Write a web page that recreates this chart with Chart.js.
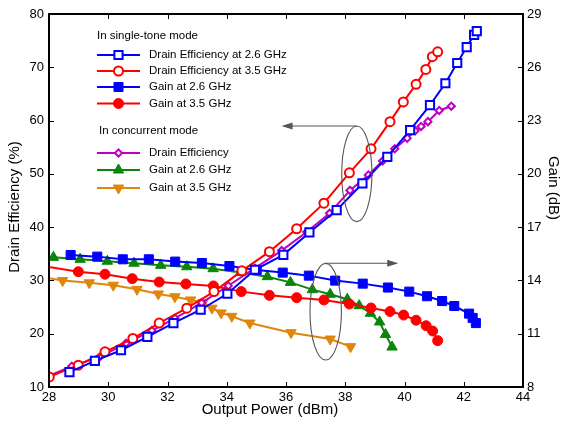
<!DOCTYPE html>
<html>
<head>
<meta charset="utf-8">
<script src="https://cdn.jsdelivr.net/npm/chart.js@4/dist/chart.umd.min.js"></script>
<style>
html,body{margin:0;padding:0;background:#fff;}
canvas{display:block;}
</style>
</head>
<body>
<canvas id="c" width="565" height="424"></canvas>
<script>
// ---- Data ----
// Single-tone: Drain efficiency at 2.6 GHz (left axis, %)
const de26Power = [28.69,29.55,30.43,31.32,32.20,33.12,34.02,34.95,35.91,36.79,37.71,38.58,39.42,40.19,40.86,41.38,41.78,42.10,42.35,42.44];
const de26Values = [12.8,14.9,16.9,19.4,22.0,24.5,27.5,32.0,34.8,39.0,43.2,48.2,53.2,58.2,62.9,67.0,70.8,73.8,76.1,76.8];
// Single-tone: Drain efficiency at 3.5 GHz
const de35Power = [28.01,28.99,29.89,30.83,31.72,32.65,33.57,34.51,35.44,36.36,37.28,38.14,38.87,39.51,39.96,40.39,40.72,40.94,41.12];
const de35Values = [11.9,14.1,16.6,19.1,22.0,24.8,27.9,31.8,35.4,39.7,44.5,50.2,54.7,59.8,63.5,66.8,69.6,72.0,72.9];
// Single-tone: Gain at 2.6 GHz (right axis, dB)
const gain26Power = [28.73,29.63,30.49,31.37,32.26,33.16,34.09,35.01,35.89,36.77,37.66,38.59,39.44,40.16,40.76,41.27,41.68,42.18,42.30,42.41];
const gain26Values = [15.43,15.34,15.19,15.19,15.06,14.98,14.81,14.59,14.44,14.27,13.99,13.82,13.60,13.37,13.11,12.84,12.56,12.13,11.89,11.60];
// Single-tone: Gain at 3.5 GHz
const gain35Power = [28.0,28.99,29.89,30.81,31.72,32.62,33.55,34.49,35.44,36.36,37.28,38.14,38.87,39.51,39.97,40.39,40.73,40.95,41.12];
const gain35Values = [14.76,14.49,14.35,14.10,13.91,13.80,13.69,13.37,13.16,13.03,12.90,12.67,12.45,12.25,12.05,11.76,11.45,11.15,10.61];
// Concurrent: Drain efficiency
const deConcPower = [28.01,28.77,29.70,30.60,31.47,32.25,33.15,34.05,34.95,35.85,36.70,37.47,38.16,38.78,39.26,39.67,40.09,40.36,40.56,40.79,41.17,41.58];
const deConcValues = [12.1,13.9,15.6,18.2,20.6,22.9,25.8,29.0,32.3,35.6,39.1,42.6,46.9,49.8,52.4,54.7,56.7,58.1,58.9,59.8,61.9,62.7];
// Concurrent: Gain at 2.6 GHz
const gainConc26Power = [28.15,29.05,29.97,30.87,31.77,32.65,33.54,34.47,35.37,36.15,36.89,37.49,38.07,38.47,38.85,39.16,39.36,39.58];
const gainConc26Values = [15.30,15.19,15.08,14.97,14.85,14.77,14.66,14.44,14.21,13.89,13.48,13.22,12.94,12.58,12.15,11.66,10.96,10.25];
// Concurrent: Gain at 3.5 GHz
const gainConc35Power = [28.0,28.46,29.36,30.17,30.97,31.69,32.25,32.78,33.20,33.50,33.81,34.17,34.78,36.17,37.49,38.18];
const gainConc35Values = [14.12,13.99,13.87,13.73,13.50,13.24,13.08,12.90,12.76,12.44,12.17,11.98,11.60,11.06,10.70,10.27];

const xTickMin = 28, xTickMax = 44, xTickStep = 2;
const leftMin = 10, leftMax = 80, leftStep = 10;
const rightMin = 8, rightMax = 29, rightStep = 3;

const legendSingleTitle = 'In single-tone mode';
const legendConcTitle = 'In concurrent mode';
const xTitle = 'Output Power (dBm)';
const yLeftTitle = 'Drain Efficiency (%)';
const yRightTitle = 'Gain (dB)';

// ---- Styles ----
const BLUE = '#0000FF', RED = '#FF0000', MAG = '#BF00BF', GREEN = '#0B850B', ORANGE = '#E0860C';

function pts(xs, ys){ return xs.map((x,i)=>({x:x, y:ys[i]})); }

const series = [
  {label:'Drain Efficiency at 2.6 GHz', group:1, data:pts(de26Power,de26Values), axis:'y', color:BLUE, style:'rect', r:5.8, fill:'#fff', bw:2},
  {label:'Drain Efficiency at 3.5 GHz', group:1, data:pts(de35Power,de35Values), axis:'y', color:RED, style:'circle', r:4.5, fill:'#fff', bw:2},
  {label:'Gain at 2.6 GHz', group:1, data:pts(gain26Power,gain26Values), axis:'y2', color:BLUE, style:'rect', r:6.4, fill:BLUE, bw:1},
  {label:'Gain at 3.5 GHz', group:1, data:pts(gain35Power,gain35Values), axis:'y2', color:RED, style:'circle', r:5, fill:RED, bw:1, skipFirst:true},
  {label:'Drain Efficiency', group:2, data:pts(deConcPower,deConcValues), axis:'y', color:MAG, style:'rectRot', r:3.6, fill:'#fff', bw:2},
  {label:'Gain at 2.6 GHz', group:2, data:pts(gainConc26Power,gainConc26Values), axis:'y2', color:GREEN, style:'triangle', r:6, fill:GREEN, bw:1},
  {label:'Gain at 3.5 GHz', group:2, data:pts(gainConc35Power,gainConc35Values), axis:'y2', color:ORANGE, style:'triangle', rot:180, r:6, fill:ORANGE, bw:1, skipFirst:true},
];

const datasets = series.map(s => ({
  label: s.label,
  data: s.data,
  yAxisID: s.axis,
  borderColor: s.color,
  backgroundColor: s.fill,
  borderWidth: 2,
  pointStyle: s.style,
  pointRotation: s.rot || 0,
  pointRadius: s.skipFirst ? (c => c.dataIndex === 0 ? 0 : s.r) : s.r,
  pointBorderWidth: s.bw,
  pointBorderColor: s.color,
  pointBackgroundColor: s.fill,
  showLine: true,
  tension: 0,
  fill: false
}));

// annotation shapes (in data units): ellipses and arrows
const ellipseA = {x:38.39, rx:0.51, y:50.0, ry:8.97, axis:'y'};
const arrowA = {x1:38.39, x2:35.85, y:58.98, axis:'y'};
const ellipseB = {x:37.34, rx:0.53, y:12.24, ry:2.72, axis:'y2'};
const arrowB = {x1:37.31, x2:39.79, y:14.97, axis:'y2'};

function drawMarker(ctx, style, x, y, r, rot, fill, stroke, bw){
  ctx.save();
  ctx.translate(x,y);
  ctx.rotate((rot||0)*Math.PI/180);
  ctx.beginPath();
  if(style==='circle'){ ctx.arc(0,0,r,0,Math.PI*2); }
  else if(style==='rect'){ const s=Math.SQRT1_2*r; ctx.rect(-s,-s,2*s,2*s); }
  else if(style==='rectRot'){ ctx.moveTo(0,-r); ctx.lineTo(r,0); ctx.lineTo(0,r); ctx.lineTo(-r,0); ctx.closePath(); }
  else if(style==='triangle'){
    ctx.moveTo(0,-r); ctx.lineTo(r*Math.cos(Math.PI/6), r*0.5); ctx.lineTo(-r*Math.cos(Math.PI/6), r*0.5); ctx.closePath();
  }
  ctx.fillStyle=fill; ctx.fill();
  ctx.lineWidth=bw; ctx.strokeStyle=stroke; ctx.stroke();
  ctx.restore();
}

const decor = {
  id:'decor',
  afterDraw(chart){
    const ctx = chart.ctx;
    const a = chart.chartArea;
    const xs = chart.scales.x, yl = chart.scales.y, yr = chart.scales.y2;
    ctx.save();
    // inward ticks
    ctx.strokeStyle='#000'; ctx.lineWidth=1;
    ctx.beginPath();
    for(let v=xTickMin; v<=xTickMax; v+=xTickStep){
      const px = Math.round(xs.getPixelForValue(v))+0.5;
      ctx.moveTo(px,a.bottom); ctx.lineTo(px,a.bottom-5);
      ctx.moveTo(px,a.top); ctx.lineTo(px,a.top+5);
    }
    for(let v=leftMin; v<=leftMax; v+=leftStep){
      const py = Math.round(yl.getPixelForValue(v))+0.5;
      ctx.moveTo(a.left,py); ctx.lineTo(a.left+5,py);
    }
    for(let v=rightMin; v<=rightMax; v+=rightStep){
      const py = Math.round(yr.getPixelForValue(v))+0.5;
      ctx.moveTo(a.right,py); ctx.lineTo(a.right-5,py);
    }
    ctx.stroke();
    // frame
    ctx.lineWidth=2;
    ctx.strokeRect(a.left, a.top, a.right-a.left, a.bottom-a.top);

    // annotations
    ctx.strokeStyle='#555'; ctx.fillStyle='#555'; ctx.lineWidth=1.1;
    function ell(e){
      const sy = chart.scales[e.axis];
      const cx = xs.getPixelForValue(e.x), cy = sy.getPixelForValue(e.y);
      const rx = Math.abs(xs.getPixelForValue(e.x+e.rx)-cx), ry = Math.abs(sy.getPixelForValue(e.y+e.ry)-cy);
      ctx.beginPath(); ctx.ellipse(cx,cy,rx,ry,0,0,Math.PI*2); ctx.stroke();
    }
    function arr(r){
      const sy = chart.scales[r.axis];
      const x1 = xs.getPixelForValue(r.x1), x2 = xs.getPixelForValue(r.x2), y = sy.getPixelForValue(r.y);
      const dir = x2 > x1 ? 1 : -1;
      ctx.beginPath(); ctx.moveTo(x1,y); ctx.lineTo(x2-dir*9,y); ctx.stroke();
      ctx.beginPath(); ctx.moveTo(x2,y); ctx.lineTo(x2-dir*11,y-3.5); ctx.lineTo(x2-dir*11,y+3.5); ctx.closePath(); ctx.fill();
    }
    ell(ellipseA); arr(arrowA); ell(ellipseB); arr(arrowB);

    // legend
    ctx.font = '11.5px "Liberation Sans", Arial, sans-serif';
    ctx.textBaseline='middle'; ctx.textAlign='left'; ctx.fillStyle='#000';
    ctx.fillText(legendSingleTitle, 97, 36);
    ctx.fillText(legendConcTitle, 99, 131);
    const rows = [55,71,87,103.5,153,170,188];
    series.forEach((s,i)=>{
      const y = rows[i];
      ctx.strokeStyle=s.color; ctx.lineWidth=2;
      ctx.beginPath(); ctx.moveTo(97,y); ctx.lineTo(140,y); ctx.stroke();
      drawMarker(ctx, s.style, 118.5, y, s.r, s.rot, s.fill, s.color, s.bw);
      ctx.fillStyle='#000';
      ctx.fillText(s.label, 149, y);
    });

    // axis titles
    ctx.fillStyle='#000';
    ctx.font = '15px "Liberation Sans", Arial, sans-serif';
    ctx.textAlign='center'; ctx.textBaseline='middle';
    ctx.fillText(xTitle, 270, 410);
    ctx.save(); ctx.translate(15, 207); ctx.rotate(-Math.PI/2); ctx.fillText(yLeftTitle,0,0); ctx.restore();
    ctx.save(); ctx.translate(553, 188); ctx.rotate(Math.PI/2); ctx.fillText(yRightTitle,0,0); ctx.restore();
    ctx.restore();
  }
};

const tickFont = {family:'"Liberation Sans", Arial, sans-serif', size:13};

new Chart(document.getElementById('c'), {
  type:'line',
  data:{datasets:datasets},
  options:{
    responsive:false,
    devicePixelRatio:1,
    animation:false,
    layout:{padding:{top:14,left:0,right:0,bottom:0}},
    plugins:{legend:{display:false}, tooltip:{enabled:false}},
    scales:{
      x:{type:'linear', min:xTickMin, max:xTickMax,
         ticks:{stepSize:xTickStep, font:tickFont, color:'#000', padding:3, maxRotation:0},
         grid:{display:false, drawTicks:false}, border:{display:false},
         afterFit:s=>{s.height=37;}},
      y:{type:'linear', position:'left', min:leftMin, max:leftMax,
         ticks:{stepSize:leftStep, font:tickFont, color:'#000', padding:5},
         grid:{display:false, drawTicks:false}, border:{display:false},
         afterFit:s=>{s.width=49;}},
      y2:{type:'linear', position:'right', min:rightMin, max:rightMax,
         ticks:{stepSize:rightStep, font:tickFont, color:'#000', padding:4},
         grid:{display:false, drawTicks:false}, border:{display:false},
         afterFit:s=>{s.width=42;}}
    }
  },
  plugins:[decor]
});
</script>
</body>
</html>
